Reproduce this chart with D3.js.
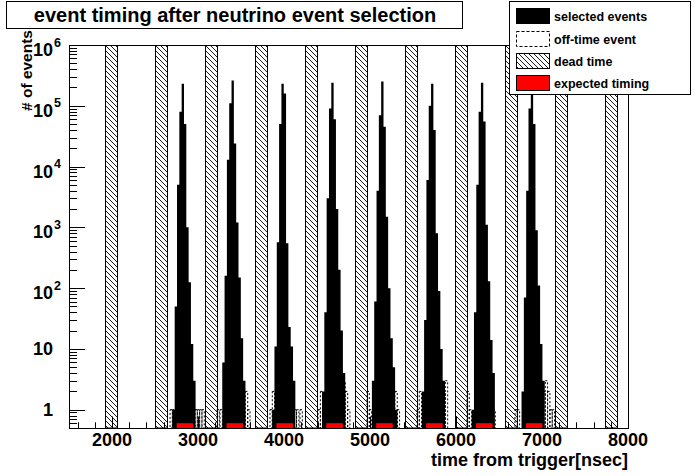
<!DOCTYPE html>
<html><head><meta charset="utf-8">
<script src="https://cdn.jsdelivr.net/npm/d3@7"></script>
<style>
body{margin:0;background:#fff}
svg{display:block}
text{font-family:"Liberation Sans",Arial,Helvetica,sans-serif;font-weight:bold;fill:#000}
</style>
</head><body>
<svg id="c" width="698" height="476"></svg>
<script>
// ---------------- data ----------------
const titleText = "event timing after neutrino event selection";
const xTitle = "time from trigger[nsec]";
const yTitle = "# of events";
const xDomain = [1500, 8000];
const yDomain = [0.5, 1e6];
const xMajorTicks = [2000, 3000, 4000, 5000, 6000, 7000, 8000];
const xMinorStep = 200;
const yDecades = [0, 1, 2, 3, 4, 5, 6];

const binWidth = 27; // ns
const bunchSpikeStart = [2810, 3390, 3970, 4550, 5130, 5710, 6290, 6870];
const bunchOffsets = [-4, -3, -2, -1, 0, 1, 2, 3, 4, 5, 6];
const bunchCounts = [
  [1, 50, 5000, 80000, 230000, 50000, 1000, 125, 12, 3, 0],
  [6, 160, 13000, 110000, 260000, 24000, 1200, 150, 15, 3, 0],
  [1, 11, 570, 50000, 230000, 160000, 550, 23, 11, 3, 0],
  [2, 40, 3000, 90000, 240000, 60000, 2000, 200, 20, 4, 0],
  [3, 60, 4000, 70000, 250000, 45000, 1500, 100, 15, 5, 1],
  [2, 30, 6000, 100000, 230000, 40000, 800, 90, 10, 3, 0],
  [1, 40, 5000, 80000, 240000, 55000, 1100, 130, 14, 4, 0],
  [2, 70, 4000, 90000, 250000, 50000, 900, 110, 12, 3, 0]
];

const deadStart = [1919, 2500, 3081, 3662, 4243, 4824, 5405, 5986, 6567, 7148, 7729];
const deadWidth = 140;

const expectedStart = [2752, 3332, 3912, 4492, 5072, 5652, 6232, 6812];
const expectedWidth = 193;
const expectedLevel = 0.6;

const offTimeStart = [
  2675, 2702, 2965, 2992, 3019, 3046, 3221,
  3256, 3337, 3524, 3551, 3578,
  3837, 3864, 4119, 4146, 4186,
  4396, 4423, 4686, 4713, 4740,
  4965, 4992, 5290, 5317,
  5546, 5573, 5849, 5876,
  6127, 6154, 6395, 6430,
  6686, 6713, 7011, 7038, 7065, 7092, 7119
];
const offTimeCount = [
  1, 1, 1, 1, 1, 1, 1,
  1, 1, 1, 2, 1,
  1, 2, 1, 1, 1,
  1, 2, 3, 2, 1,
  2, 1, 2, 1,
  1, 2, 2, 3,
  2, 1, 1, 1,
  1, 1, 2, 3, 2, 1, 1
];

const legendLabels = ["selected events", "off-time event", "dead time", "expected timing"];

// ---------------- layout ----------------
const W = 698, H = 476;
const F = {left: 69, right: 628, top: 45, bottom: 428};
const svg = d3.select("#c");
const x = d3.scaleLinear().domain(xDomain).range([F.left, F.right]);
const y = d3.scaleLog().domain(yDomain).range([F.bottom, F.top]);

svg.append("rect").attr("width", W).attr("height", H).attr("fill", "#fff");

const defs = svg.append("defs");
const pat = defs.append("pattern").attr("id", "hatch")
  .attr("patternUnits", "userSpaceOnUse").attr("width", 5).attr("height", 5);
pat.append("path").attr("d", "M-1,-1L6,6M-1,4L1,6M4,-1L6,1")
  .attr("stroke", "#000").attr("stroke-width", 0.9).attr("fill", "none");
defs.append("clipPath").attr("id", "frameClip").append("rect")
  .attr("x", F.left).attr("y", F.top).attr("width", F.right - F.left).attr("height", F.bottom - F.top);

// ---- axis ticks (ROOT style, inside) ----
const gAxes = svg.append("g").attr("stroke", "#000").attr("stroke-width", 1);
const xMinor = d3.range(1600, xDomain[1] + 1, xMinorStep);
xMinor.forEach(v => {
  const major = v % 1000 === 0;
  const len = major ? 11.5 : 5.7;
  gAxes.append("line").attr("x1", Math.round(x(v)) + 0.5).attr("x2", Math.round(x(v)) + 0.5)
    .attr("y1", F.bottom).attr("y2", F.bottom - len);
});
const yMinorVals = [];
for (let d = -1; d <= 5; d++) {
  for (let m = 2; m <= 9; m++) {
    const v = m * Math.pow(10, d);
    if (v > yDomain[0] && v < yDomain[1]) yMinorVals.push(v);
  }
}
yMinorVals.forEach(v => {
  gAxes.append("line").attr("x1", F.left).attr("x2", F.left + 8)
    .attr("y1", Math.round(y(v)) + 0.5).attr("y2", Math.round(y(v)) + 0.5);
});
yDecades.forEach(d => {
  const v = Math.pow(10, d);
  gAxes.append("line").attr("x1", F.left).attr("x2", F.left + 16)
    .attr("y1", Math.round(y(v)) + 0.5).attr("y2", Math.round(y(v)) + 0.5);
});

const gData = svg.append("g").attr("clip-path", "url(#frameClip)");

// ---- dead time hatched bars ----
deadStart.forEach(s => {
  gData.append("rect")
    .attr("x", Math.round(x(s)) + 0.5).attr("y", y(yDomain[1]))
    .attr("width", Math.round(x(s + deadWidth) - x(s))).attr("height", y(yDomain[0]) - y(yDomain[1]))
    .attr("fill", "url(#hatch)").attr("stroke", "#000").attr("stroke-width", 1);
});

// ---- off-time events (dashed) ----
offTimeStart.forEach((s, i) => {
  gData.append("rect")
    .attr("x", x(s)).attr("y", y(offTimeCount[i]))
    .attr("width", x(s + binWidth) - x(s)).attr("height", y(yDomain[0]) - y(offTimeCount[i]))
    .attr("fill", "none").attr("stroke", "#000").attr("stroke-width", 1)
    .attr("stroke-dasharray", "2,2");
});

// ---- selected events (black histogram) ----
const area = d3.area()
  .x(p => x(p[0]))
  .y0(y(yDomain[0]))
  .y1(p => y(Math.max(p[1], yDomain[0])))
  .curve(d3.curveStepAfter);
bunchSpikeStart.forEach((s, k) => {
  const pts = bunchOffsets.map((o, j) => [s + o * binWidth, bunchCounts[k][j]]);
  const last = pts[pts.length - 1];
  pts.push([last[0] + binWidth, yDomain[0]]);
  gData.append("path").attr("d", area(pts)).attr("fill", "#000").attr("stroke", "none");
});

// ---- expected timing (red) ----
expectedStart.forEach(s => {
  gData.append("rect")
    .attr("x", x(s)).attr("y", y(expectedLevel))
    .attr("width", x(s + expectedWidth) - x(s)).attr("height", y(yDomain[0]) - y(expectedLevel))
    .attr("fill", "#ff0000");
});

// ---- frame ----
svg.append("rect").attr("x", F.left + 0.5).attr("y", F.top + 0.5)
  .attr("width", F.right - F.left).attr("height", F.bottom - F.top)
  .attr("fill", "none").attr("stroke", "#000").attr("stroke-width", 1);

// ---- tick labels ----
xMajorTicks.forEach(v => {
  svg.append("text").attr("x", x(v)).attr("y", 446)
    .attr("text-anchor", "middle").attr("font-size", 18).text(v);
});
yDecades.forEach(d => {
  const t = y(Math.pow(10, d));
  if (d <= 1) {
    svg.append("text").attr("x", 53).attr("y", t + 6.5)
      .attr("text-anchor", "end").attr("font-size", 18).text(d === 0 ? "1" : "10");
  } else {
    svg.append("text").attr("x", 53).attr("y", t + 11)
      .attr("text-anchor", "end").attr("font-size", 18).text("10");
    svg.append("text").attr("x", 54).attr("y", t + 1.5)
      .attr("text-anchor", "start").attr("font-size", 12.5).text(d);
  }
});

// ---- axis titles ----
svg.append("text").attr("x", F.right).attr("y", 466)
  .attr("text-anchor", "end").attr("font-size", 18).text(xTitle);
svg.append("text").attr("transform", "translate(32,30) rotate(-90)")
  .attr("text-anchor", "end").attr("font-size", 15.5).text(yTitle);

// ---- title box ----
svg.append("rect").attr("x", 6.5).attr("y", 1.5).attr("width", 456).attr("height", 27)
  .attr("fill", "#fff").attr("stroke", "#000").attr("stroke-width", 1);
svg.append("text").attr("x", 235).attr("y", 21.5).attr("text-anchor", "middle")
  .attr("font-size", 20).text(titleText);

// ---- legend ----
const lg = svg.append("g");
lg.append("rect").attr("x", 509.5).attr("y", 1.5).attr("width", 181).attr("height", 93)
  .attr("fill", "#fff").attr("stroke", "#000").attr("stroke-width", 1);
const rowY = [8, 31, 53, 75];
const swatch = [
  {fill: "#000", dash: null},
  {fill: "none", dash: "3,2"},
  {fill: "url(#hatch)", dash: null},
  {fill: "#ff0000", dash: null}
];
legendLabels.forEach((lab, i) => {
  lg.append("rect").attr("x", 516.5).attr("y", rowY[i] + 0.5).attr("width", 33).attr("height", 15)
    .attr("fill", swatch[i].fill).attr("stroke", "#000").attr("stroke-width", 1)
    .attr("stroke-dasharray", swatch[i].dash);
  lg.append("text").attr("x", 554).attr("y", rowY[i] + 12.5)
    .attr("font-size", 12.5).text(lab);
});
</script>
</body></html>
